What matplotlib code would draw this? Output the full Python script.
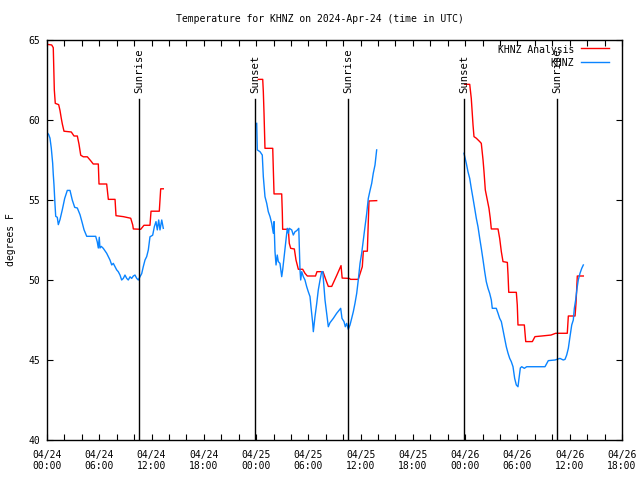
import matplotlib
matplotlib.use("Agg")
import matplotlib.pyplot as plt
import numpy as np

# Hours since 2024-04-24 00:00 UTC
red_t1 = [0.00, 0.54, 0.72, 0.84, 0.95, 1.34, 1.49, 1.64, 1.76, 1.95, 2.79, 3.10, 3.48, 3.67, 3.87, 4.17,
          4.63, 5.02, 5.31, 5.89, 5.97, 6.85, 7.04, 7.81, 7.92, 8.76, 9.61, 9.84, 9.91, 10.76, 11.13,
          11.82, 11.94, 12.89, 13.05, 13.35]
red_v1 = [64.73, 64.69, 64.52, 61.88, 61.04, 60.96, 60.6, 60.1, 59.75, 59.3, 59.25, 59.0, 59.0, 58.5, 57.8, 57.7,
          57.7, 57.45, 57.25, 57.25, 56.0, 56.0, 55.04, 55.04, 54.02, 53.96, 53.86, 53.44, 53.19, 53.17, 53.42,
          53.42, 54.3, 54.3, 55.7, 55.7]

red_t2 = [24.25, 24.76, 24.83, 24.91, 25.02, 25.91, 25.98, 26.06, 26.94, 27.01, 27.05, 27.70, 27.81, 27.97,
          28.39, 28.58, 28.85, 29.35, 29.61, 29.88, 30.82, 30.99, 31.68, 32.08, 32.29, 32.68, 33.25, 33.75,
          33.88, 34.70, 34.84, 35.73, 35.85, 36.19, 36.31, 36.77, 36.88, 36.96, 37.84]
red_v2 = [62.54, 62.54, 61.77, 60.42, 58.23, 58.23, 56.88, 55.38, 55.38, 54.21, 53.17, 53.17, 52.29, 51.98,
          51.94, 51.25, 50.67, 50.67, 50.42, 50.25, 50.25, 50.52, 50.52, 49.9, 49.6, 49.6, 50.28, 50.9,
          50.12, 50.1, 50.04, 50.04, 50.25, 50.83, 51.8, 51.8, 53.65, 54.94, 54.96]

red_t3 = [47.95, 48.52, 48.70, 48.90, 49.01, 49.28, 49.67, 49.85, 50.05, 50.16, 50.31, 50.54, 50.73, 50.88,
          51.00, 51.77, 51.96, 52.15, 52.34, 52.84, 52.92, 53.00, 53.87, 53.98, 54.06, 54.79, 54.95, 55.71,
          56.01, 56.78, 57.85, 58.39, 59.72, 59.84, 60.61, 60.72, 60.87, 61.56]
red_v3 = [62.23, 62.23, 61.35, 59.69, 58.96, 58.86, 58.65, 58.54, 57.5, 56.77, 55.63, 55.0, 54.48, 53.85,
          53.19, 53.19, 52.6, 51.77, 51.15, 51.1, 50.31, 49.23, 49.23, 48.44, 47.19, 47.19, 46.15, 46.15,
          46.46, 46.5, 46.56, 46.67, 46.67, 47.75, 47.75, 48.54, 50.25, 50.25]

blue_t1 = [0.00, 0.20, 0.34, 0.49, 0.65, 0.72, 0.80, 0.92, 1.00, 1.18, 1.30, 1.49, 1.76, 2.03, 2.33, 2.64,
           2.90, 3.18, 3.48, 3.79, 4.05, 4.25, 4.56, 5.59, 5.77, 5.89, 6.00, 6.08, 6.23, 6.46, 6.85, 7.04,
           7.23, 7.43, 7.61, 7.81, 8.00, 8.18, 8.38, 8.57, 8.76, 8.95, 9.15, 9.33, 9.53, 9.72, 9.91, 10.10,
           10.30, 10.48, 10.67, 10.87, 11.05, 11.25, 11.44, 11.63, 11.82, 12.13, 12.32, 12.51, 12.66, 12.82,
           12.97, 13.17, 13.35]
blue_v1 = [59.23, 59.08, 58.87, 58.25, 57.3, 56.6, 55.96, 54.7, 53.98, 53.92, 53.46, 53.77, 54.4, 55.1, 55.6, 55.6,
           55.0, 54.54, 54.5, 54.08, 53.56, 53.14, 52.73, 52.73, 52.38, 52.0, 52.67, 52.0, 52.1, 51.98, 51.67, 51.46,
           51.25, 50.94, 51.04, 50.83, 50.63, 50.52, 50.31, 50.0, 50.1, 50.31, 50.1, 50.0, 50.2, 50.1, 50.25, 50.31,
           50.1, 50.0, 50.2, 50.4, 50.83, 51.25, 51.46, 51.88, 52.7, 52.8, 53.33, 53.65, 53.13, 53.75,
           53.13, 53.75, 53.23]

blue_t2 = [24.07, 24.14, 24.45, 24.71, 24.83, 25.02, 25.22, 25.40, 25.60, 25.79, 25.98, 26.06, 26.17, 26.29,
           26.43, 26.55, 26.74, 26.94, 27.05, 27.24, 27.43, 27.58, 27.70, 27.81, 28.09, 28.27, 28.47, 28.66,
           28.90, 29.04, 29.12, 29.24, 29.42, 29.61, 29.81, 29.99, 30.19, 30.30, 30.50, 30.57, 30.76, 30.96,
           31.14, 31.34, 31.53, 31.65, 31.79, 31.91, 32.10, 32.29, 32.48, 32.86, 33.25, 33.71, 33.86, 34.09,
           34.24, 34.40, 34.58, 34.78, 34.97, 35.16, 35.35, 35.55, 35.73, 35.93, 36.12, 36.31, 36.50, 36.70,
           36.88, 37.08, 37.27, 37.45, 37.65, 37.84]
blue_v2 = [59.79, 58.13, 58.02, 57.81, 56.46, 55.21, 54.79, 54.27, 53.96, 53.54, 52.92, 53.65, 51.77, 50.94,
           51.56, 51.15, 51.04, 50.21, 50.63, 51.56, 52.5, 53.23, 52.92, 53.23, 53.13, 52.81, 53.02, 53.08,
           53.23, 50.63, 50.0, 50.52, 50.21, 50.0, 49.58, 49.27, 48.96, 48.33, 47.29, 46.77, 47.71, 48.54,
           49.38, 50.0, 50.52, 50.52, 49.58, 48.75, 47.92, 47.08, 47.33, 47.6, 47.92, 48.23, 47.6, 47.4,
           47.08, 47.29, 46.92, 47.19, 47.6, 48.02, 48.54, 49.17, 50.0, 51.04, 51.67, 52.5, 53.33, 54.17,
           55.1, 55.6, 56.04, 56.67, 57.19, 58.13]

blue_t3 = [47.86, 48.13, 48.32, 48.52, 48.70, 48.90, 49.09, 49.28, 49.47, 49.67, 49.85, 50.05, 50.24, 50.42,
           50.62, 50.81, 51.00, 51.11, 51.57, 51.77, 51.96, 52.15, 52.34, 52.53, 52.72, 52.92, 53.11, 53.29,
           53.49, 53.68, 53.87, 54.06, 54.18, 54.33, 54.49, 54.79, 55.06, 57.16, 57.54, 58.31, 58.88, 59.26,
           59.46, 59.65, 59.84, 60.03, 60.23, 60.41, 60.53, 60.68, 60.84, 60.98, 61.18, 61.38, 61.56]
blue_v3 = [57.92, 57.29, 56.77, 56.35, 55.73, 55.1, 54.48, 53.85, 53.33, 52.6, 51.98, 51.25, 50.52, 49.9,
           49.48, 49.17, 48.75, 48.23, 48.23, 47.92, 47.6, 47.4, 46.88, 46.35, 45.83, 45.42, 45.1, 44.9,
           44.58, 43.85, 43.44, 43.33, 43.85, 44.5, 44.58, 44.48, 44.58, 44.58, 44.96, 45.0, 45.1, 45.0,
           45.04, 45.31, 45.73, 46.46, 47.19, 47.5, 48.23, 48.75, 49.48, 50.0, 50.42, 50.73, 50.94]

sun_times = [10.56, 23.87, 34.55, 47.86, 58.54]
sun_labels = ["Sunrise", "Sunset", "Sunrise", "Sunset", "Sunrise"]

xtick_pos = [0, 6, 12, 18, 24, 30, 36, 42, 48, 54, 60, 66]
xtick_labels = ["04/24\n00:00", "04/24\n06:00", "04/24\n12:00", "04/24\n18:00",
                "04/25\n00:00", "04/25\n06:00", "04/25\n12:00", "04/25\n18:00",
                "04/26\n00:00", "04/26\n06:00", "04/26\n12:00", "04/26\n18:00"]
ytick_pos = [40, 45, 50, 55, 60, 65]

RED = "#ff0000"
BLUE = "#0a84ff"
FONT = "DejaVu Sans Mono"
FS = 7

plt.rcParams["font.family"] = FONT
fig = plt.figure(figsize=(6.4, 4.8), dpi=100)
ax = fig.add_axes([47 / 640, 40 / 480, 575 / 640, 400 / 480])

for t, v in [(red_t1, red_v1), (red_t2, red_v2), (red_t3, red_v3)]:
    ax.plot(t, v, color=RED, lw=1.0)
for t, v in [(blue_t1, blue_v1), (blue_t2, blue_v2), (blue_t3, blue_v3)]:
    ax.plot(t, v, color=BLUE, lw=1.0)

for st, lab in zip(sun_times, sun_labels):
    ax.plot([st, st], [40, 61.3], color="black", lw=1.0)
    ax.text(st, 61.7, lab, rotation=90, ha="center", va="bottom", fontsize=7.6, family=FONT)

ax.set_xlim(0, 66)
ax.set_ylim(40, 65)
ax.set_xticks(xtick_pos)
ax.set_xticklabels(xtick_labels, fontsize=FS)
ax.set_xticks(np.arange(0, 67, 2), minor=True)
ax.set_yticks(ytick_pos)
ax.set_yticklabels([str(v) for v in ytick_pos], fontsize=FS)
ax.tick_params(which="both", direction="in", top=True, right=True, length=4, width=0.8, pad=5)
ax.tick_params(axis="x", which="major", pad=7)
for s in ax.spines.values():
    s.set_linewidth(1.0)

ax.set_ylabel("degrees F", fontsize=FS, labelpad=9)
fig.text(0.5, 1 - 19 / 480, "Temperature for KHNZ on 2024-Apr-24 (time in UTC)",
         ha="center", va="center", fontsize=FS)

# legend
fig.text(574 / 640, 1 - 50 / 480, "KHNZ Analysis", ha="right", va="center", fontsize=FS)
fig.text(574 / 640, 1 - 63 / 480, "KHNZ", ha="right", va="center", fontsize=FS)
fig.add_artist(plt.Line2D([581 / 640, 609 / 640], [1 - 48 / 480, 1 - 48 / 480], color=RED, lw=1.0))
fig.add_artist(plt.Line2D([581 / 640, 609 / 640], [1 - 62 / 480, 1 - 62 / 480], color=BLUE, lw=1.0))

fig.savefig("out.png", dpi=100)
